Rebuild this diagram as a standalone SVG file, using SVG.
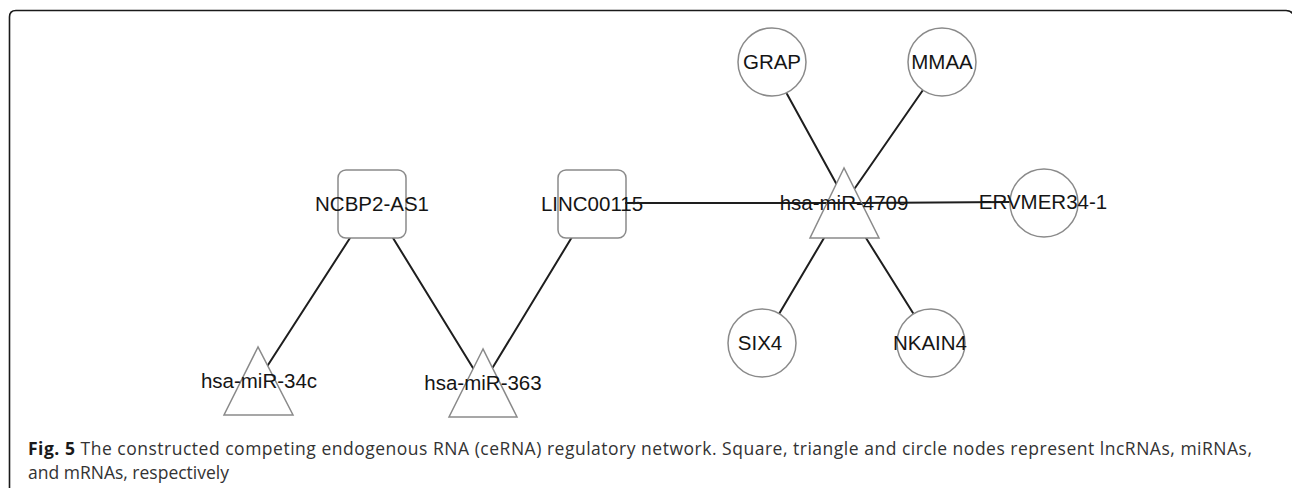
<svg xmlns="http://www.w3.org/2000/svg" width="1292" height="488" viewBox="0 0 1292 488">
<style>
.frame{fill:none;stroke:#1a1a1a;stroke-width:1.6}
.edge{stroke:#1e1e1e;stroke-width:2;fill:none;stroke-linecap:round}
.node{fill:#fff;stroke:#8a8a8a;stroke-width:1.5}
.lbl{font-family:"Liberation Sans",Arial,sans-serif;font-size:20.5px;fill:#151515;text-anchor:middle}
.cap{font-family:"Open Sans","Noto Sans",sans-serif;font-size:17.5px;fill:#333}
.capb{font-weight:bold;fill:#1a1a1a}
</style>
<rect width="1292" height="488" fill="#fff"/>
<path class="frame" d="M9.5,488 V17 Q9.5,10.5 16,10.5 H1286 Q1292,10.5 1294,16"/>
<g id="connectors">
<line class="edge" x1="350" y1="238" x2="268" y2="365"/>
<line class="edge" x1="393" y1="238" x2="473" y2="368"/>
<line class="edge" x1="572" y1="237" x2="493" y2="367"/>
<line class="edge" x1="626" y1="203" x2="828" y2="203"/>
<line class="edge" x1="860" y1="203" x2="1010" y2="202"/>
<line class="edge" x1="787" y1="94" x2="837" y2="185"/>
<line class="edge" x1="923" y1="90" x2="855" y2="188"/>
<line class="edge" x1="824" y1="238" x2="779" y2="314"/>
<line class="edge" x1="866" y1="238" x2="913" y2="313"/>
</g>
<g id="NCBP2-AS1"><rect class="node" x="338" y="170" width="68" height="68" rx="8"/><text class="lbl" x="372" y="211">NCBP2-AS1</text></g>
<g id="LINC00115"><rect class="node" x="558" y="170" width="68" height="68" rx="8"/><text class="lbl" x="592" y="211">LINC00115</text></g>
<line class="edge" x1="626" y1="203" x2="645" y2="203"/>
<g id="hsa-miR-34c"><polygon class="node" points="258,347 224,415 293,415"/><text class="lbl" x="259" y="388">hsa-miR-34c</text></g>
<g id="hsa-miR-363"><polygon class="node" points="483,349 449,417 517,417"/><text class="lbl" x="483" y="390">hsa-miR-363</text></g>
<g id="hsa-miR-4709"><polygon class="node" points="844,168 810,238 879,238"/><text class="lbl" x="844" y="210">hsa-miR-4709</text></g>
<line class="edge" x1="828" y1="203" x2="860" y2="203"/>
<g id="GRAP"><circle class="node" cx="772" cy="62" r="34"/><text class="lbl" x="772" y="69">GRAP</text></g>
<g id="MMAA"><circle class="node" cx="942" cy="62" r="34"/><text class="lbl" x="942" y="69">MMAA</text></g>
<g id="ERVMER34-1"><circle class="node" cx="1044" cy="203" r="34"/><text class="lbl" x="1043" y="209">ERVMER34-1</text></g>
<g id="SIX4"><circle class="node" cx="762" cy="343" r="34"/><text class="lbl" x="760" y="350">SIX4</text></g>
<g id="NKAIN4"><circle class="node" cx="931" cy="343" r="34"/><text class="lbl" x="930" y="350">NKAIN4</text></g>
<text class="cap" x="28" y="455" textLength="1224" lengthAdjust="spacing"><tspan class="capb">Fig. 5</tspan> The constructed competing endogenous RNA (ceRNA) regulatory network. Square, triangle and circle nodes represent lncRNAs, miRNAs,</text>
<text class="cap" x="28" y="479">and mRNAs, respectively</text>
</svg>
